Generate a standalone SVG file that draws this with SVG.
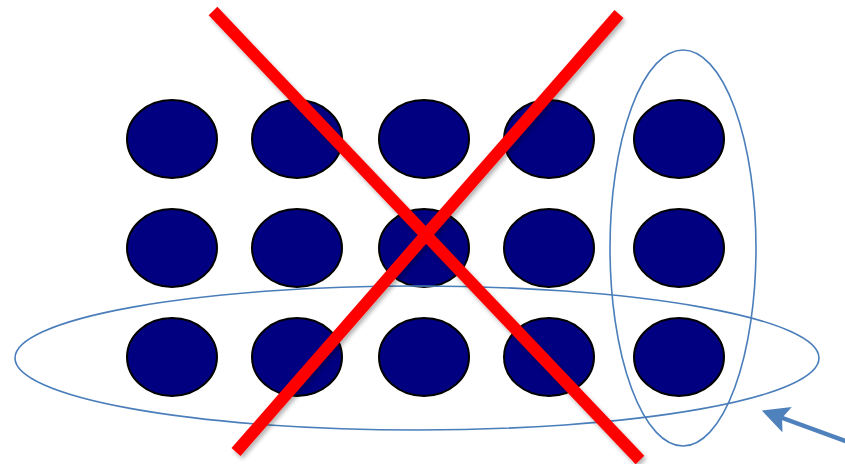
<svg xmlns="http://www.w3.org/2000/svg" width="845" height="464" viewBox="0 0 845 464">
<defs>
<style>
.dot{fill:#000080;stroke:#000;stroke-width:2}
.ring{fill:none;stroke:#4a7ebb;stroke-width:1.6}
.cross{stroke:#ff0000;stroke-width:12;stroke-linecap:butt}
</style>
<marker id="ah" markerWidth="6" markerHeight="6" refX="5" refY="3" orient="auto" markerUnits="strokeWidth">
<path d="M0,0 L6,3 L0,6 L1.2,3 Z" fill="#4f81bd"/>
</marker>
<filter id="sh" x="-10%" y="-10%" width="120%" height="120%">
<feGaussianBlur in="SourceAlpha" stdDeviation="2"/>
<feOffset dx="2" dy="3"/>
<feComponentTransfer><feFuncA type="linear" slope="0.3"/></feComponentTransfer>
<feMerge><feMergeNode/><feMergeNode in="SourceGraphic"/></feMerge>
</filter>
</defs>
<rect width="845" height="464" fill="#fff"/>
<g id="dots">
<g id="r1c1"><ellipse class="dot" cx="172" cy="139" rx="45" ry="39"/></g>
<g id="r1c2"><ellipse class="dot" cx="297" cy="139" rx="45" ry="39"/></g>
<g id="r1c3"><ellipse class="dot" cx="424" cy="139" rx="45" ry="39"/></g>
<g id="r1c4"><ellipse class="dot" cx="549" cy="139" rx="45" ry="39"/></g>
<g id="r1c5"><ellipse class="dot" cx="679" cy="139" rx="45" ry="39"/></g>
<g id="r2c1"><ellipse class="dot" cx="172" cy="248" rx="45" ry="39"/></g>
<g id="r2c2"><ellipse class="dot" cx="297" cy="248" rx="45" ry="39"/></g>
<g id="r2c3"><ellipse class="dot" cx="424" cy="248" rx="45" ry="39"/></g>
<g id="r2c4"><ellipse class="dot" cx="549" cy="248" rx="45" ry="39"/></g>
<g id="r2c5"><ellipse class="dot" cx="679" cy="248" rx="45" ry="39"/></g>
<g id="r3c1"><ellipse class="dot" cx="172" cy="357" rx="45" ry="39"/></g>
<g id="r3c2"><ellipse class="dot" cx="297" cy="357" rx="45" ry="39"/></g>
<g id="r3c3"><ellipse class="dot" cx="424" cy="357" rx="45" ry="39"/></g>
<g id="r3c4"><ellipse class="dot" cx="549" cy="357" rx="45" ry="39"/></g>
<g id="r3c5"><ellipse class="dot" cx="679" cy="357" rx="45" ry="39"/></g>
</g>
<g id="rings">
<ellipse class="ring" cx="417" cy="358" rx="402" ry="72"/>
<ellipse class="ring" cx="683" cy="248" rx="73" ry="198"/>
</g>
<g id="cross" filter="url(#sh)">
<line class="cross" x1="213" y1="11" x2="640" y2="460"/>
<line class="cross" x1="619" y1="14" x2="236" y2="452"/>
</g>
<g id="connectors">
<line x1="848" y1="442" x2="766" y2="412" stroke="#4f81bd" stroke-width="4.5" marker-end="url(#ah)"/>
</g>
</svg>
